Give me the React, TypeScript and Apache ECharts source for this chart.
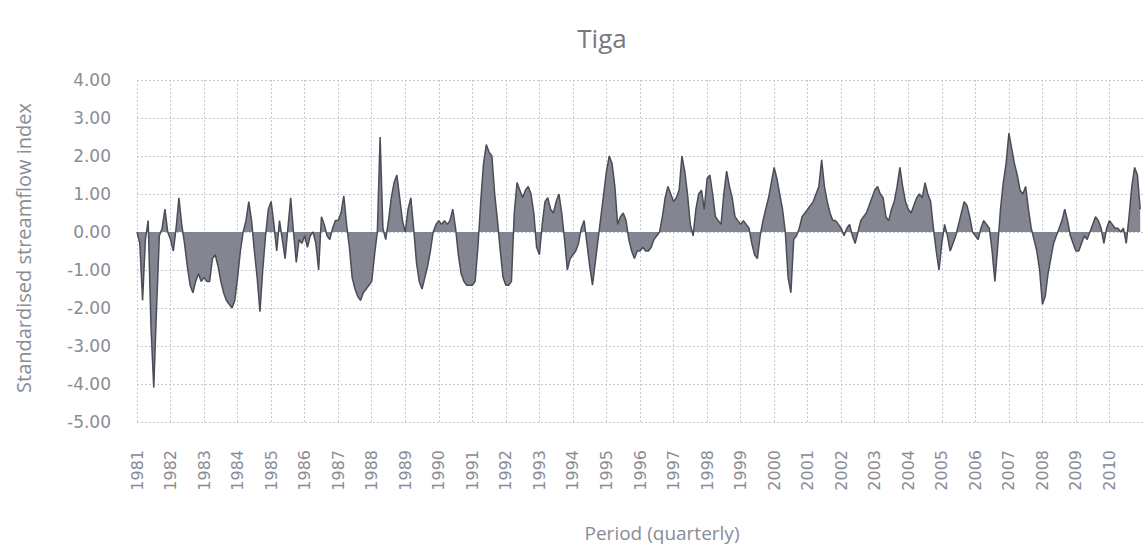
import { useEffect, useRef } from "react";
import * as echarts from "echarts";

// Monthly standardised streamflow index values (Jan..Dec per row)
const ssi1981to1990 = [
  0.0, -0.3, -1.8, -0.2, 0.3, -2.5, -4.1, -2.0, -0.1, 0.1, 0.6, 0.0,
  -0.2, -0.5, 0.1, 0.9, 0.2, -0.3, -0.9, -1.4, -1.6, -1.3, -1.1, -1.3,
  -1.2, -1.3, -1.3, -0.7, -0.6, -0.9, -1.3, -1.6, -1.8, -1.9, -2.0, -1.8,
  -1.2, -0.5, 0.0, 0.3, 0.8, 0.3, -0.5, -1.2, -2.1, -1.0, -0.1, 0.6,
  0.8, 0.2, -0.5, 0.3, -0.2, -0.7, 0.1, 0.9, 0.0, -0.8, -0.2, -0.3,
  -0.1, -0.4, -0.1, 0.0, -0.3, -1.0, 0.4, 0.2, -0.1, -0.2, 0.1, 0.3,
  0.3, 0.5, 0.95, 0.2, -0.4, -1.2, -1.5, -1.7, -1.8, -1.6, -1.5, -1.4,
  -1.3, -0.6, 0.0, 2.5, 0.1, -0.2, 0.3, 0.9, 1.3, 1.5, 0.9, 0.3,
  0.0, 0.6, 0.9, 0.1, -0.8, -1.3, -1.5, -1.2, -0.9, -0.5, 0.0, 0.2,
  0.3, 0.2, 0.3, 0.2, 0.3, 0.6, 0.1, -0.6, -1.1, -1.3, -1.4, -1.4,
];
const ssi1991to2000 = [
  -1.4, -1.3, -0.4, 0.8, 1.8, 2.3, 2.1, 2.0, 1.0, 0.3, -0.5, -1.2,
  -1.4, -1.4, -1.3, 0.5, 1.3, 1.1, 0.9, 1.1, 1.2, 1.0, 0.5, -0.4,
  -0.6, 0.2, 0.8, 0.9, 0.6, 0.5, 0.8, 1.0, 0.5, -0.2, -1.0, -0.7,
  -0.6, -0.5, -0.3, 0.1, 0.3, -0.3, -0.9, -1.4, -0.8, -0.2, 0.4, 1.0,
  1.6, 2.0, 1.8, 1.2, 0.2, 0.4, 0.5, 0.3, -0.2, -0.5, -0.7, -0.5,
  -0.5, -0.4, -0.5, -0.5, -0.4, -0.2, -0.1, 0.0, 0.4, 0.9, 1.2, 1.0,
  0.8, 0.9, 1.1, 2.0, 1.6, 1.0, 0.2, -0.1, 0.6, 1.0, 1.1, 0.6,
  1.4, 1.5, 1.0, 0.4, 0.3, 0.2, 1.0, 1.6, 1.2, 0.9, 0.4, 0.3,
  0.2, 0.3, 0.2, 0.1, -0.3, -0.6, -0.7, -0.1, 0.3, 0.6, 0.9, 1.3,
  1.7, 1.4, 1.0, 0.6, 0.0, -1.2, -1.6, -0.2, -0.1, 0.1, 0.4, 0.5,
];
const ssi2001to2010 = [
  0.6, 0.7, 0.8, 1.0, 1.2, 1.9, 1.2, 0.8, 0.5, 0.3, 0.3, 0.2,
  0.1, -0.1, 0.1, 0.2, -0.1, -0.3, 0.0, 0.3, 0.4, 0.5, 0.7, 0.9,
  1.1, 1.2, 1.0, 0.9, 0.4, 0.3, 0.6, 0.8, 1.2, 1.7, 1.2, 0.8,
  0.6, 0.5, 0.7, 0.9, 1.0, 0.9, 1.3, 1.0, 0.8, 0.1, -0.5, -1.0,
  -0.3, 0.2, -0.1, -0.5, -0.3, -0.1, 0.2, 0.5, 0.8, 0.7, 0.4, 0.0,
  -0.1, -0.2, 0.1, 0.3, 0.2, 0.1, -0.5, -1.3, -0.4, 0.6, 1.3, 1.8,
  2.6, 2.2, 1.8, 1.5, 1.1, 1.0, 1.2, 0.6, 0.1, -0.2, -0.5, -1.0,
  -1.9, -1.7, -1.1, -0.7, -0.3, -0.1, 0.1, 0.3, 0.6, 0.3, -0.1, -0.3,
  -0.5, -0.5, -0.3, -0.1, -0.2, 0.0, 0.2, 0.4, 0.3, 0.1, -0.3, 0.1,
  0.3, 0.2, 0.1, 0.1, 0.0, 0.1, -0.3, 0.4, 1.2, 1.7, 1.5, 0.6,
];

const firstYear = 1981;
const lastLabelYear = 2010;
const axisEndYear = 2011;
const yMin = -5;
const yMax = 4;

const titleText = "Tiga";
const yAxisTitle = "Standardised streamflow index";
const xAxisTitle = "Period (quarterly)";

export default function App() {
  const ref = useRef<HTMLDivElement>(null);

  useEffect(() => {
    document.body.style.margin = "0";
    const chart = echarts.init(ref.current!, null, { renderer: "svg" });
    const values = [...ssi1981to1990, ...ssi1991to2000, ...ssi2001to2010];
    const data = values.map((v, i) => [firstYear + i / 12, v]);
    const textGrey = "#8a8c94";
    const gridGrey = "#c9cad0";

    chart.setOption({
      animation: false,
      backgroundColor: "#ffffff",
      title: {
        text: titleText,
        left: 597,
        top: 20,
        textAlign: "center",
        textStyle: {
          fontFamily: "Open Sans",
          fontSize: 26,
          fontWeight: "normal",
          color: "#77797f",
        },
      },
      grid: { left: 137, right: 0, top: 80, bottom: 135 },
      xAxis: {
        type: "value",
        min: firstYear,
        max: axisEndYear,
        interval: 1,
        axisLine: { show: false },
        axisTick: { show: false },
        axisLabel: {
          rotate: 90,
          margin: 28,
          color: textGrey,
          fontFamily: "DejaVu Sans",
          fontSize: 16,
          showMaxLabel: false,
          formatter: (v: number) => (v <= lastLabelYear ? String(v) : ""),
        },
        splitLine: {
          show: true,
          lineStyle: { color: gridGrey, type: [2, 2], width: 1 },
        },
      },
      yAxis: {
        type: "value",
        min: yMin,
        max: yMax,
        interval: 1,
        axisLine: { show: false },
        axisTick: { show: false },
        axisLabel: {
          margin: 26,
          color: textGrey,
          fontFamily: "DejaVu Sans",
          fontSize: 17,
          formatter: (v: number) => v.toFixed(2),
        },
        splitLine: {
          show: true,
          lineStyle: { color: gridGrey, type: [2, 2], width: 1 },
        },
      },
      graphic: [
        {
          type: "text",
          x: 23,
          y: 248,
          rotation: Math.PI / 2,
          style: {
            text: yAxisTitle,
            fontFamily: "Open Sans",
            fontSize: 20,
            fill: textGrey,
            textAlign: "center",
            textVerticalAlign: "middle",
          },
        },
        {
          type: "text",
          x: 662,
          y: 533,
          style: {
            text: xAxisTitle,
            fontFamily: "Open Sans",
            fontSize: 19,
            fill: textGrey,
            textAlign: "center",
            textVerticalAlign: "middle",
          },
        },
      ],
      series: [
        {
          type: "line",
          data,
          showSymbol: false,
          lineStyle: { color: "#4a4d57", width: 1.5 },
          areaStyle: { color: "#767985", opacity: 0.9 },
        },
      ],
    });

    return () => chart.dispose();
  }, []);

  return <div ref={ref} style={{ width: 1143, height: 557 }} />;
}
